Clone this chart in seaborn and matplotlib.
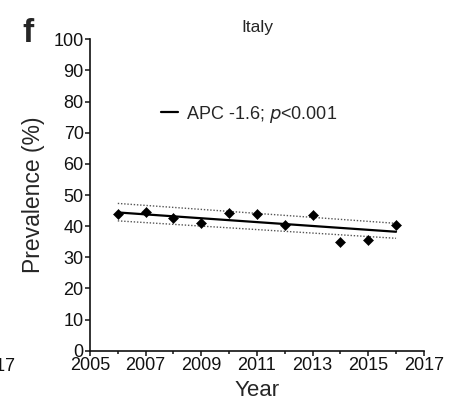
import numpy as np
import pandas as pd
import matplotlib
matplotlib.use('Agg')
import matplotlib.pyplot as plt
import seaborn as sns
from matplotlib.ticker import MultipleLocator

# prevalence by year
years = [2006, 2007, 2008, 2009, 2010, 2011, 2012, 2013, 2014, 2015, 2016]
prevalence = [43.8, 44.6, 42.5, 41.1, 44.3, 43.8, 40.4, 43.6, 35.0, 35.5, 40.4]

# fitted trend and its confidence bounds at the ends of the period
fit_years = [2006, 2016]
fit_line = [44.4, 38.2]
ci_upper = [47.3, 40.9]
ci_lower = [41.7, 36.1]

x_ticks = [2005, 2007, 2009, 2011, 2013, 2015, 2017]
y_ticks = [0, 10, 20, 30, 40, 50, 60, 70, 80, 90, 100]

df = pd.DataFrame({'Year': years, 'Prevalence': prevalence})
fit = pd.DataFrame({'Year': fit_years, 'fit': fit_line, 'lo': ci_lower, 'hi': ci_upper})

sns.set_style('ticks')
plt.rcParams['font.family'] = ['Liberation Sans', 'DejaVu Sans']

fig = plt.figure(figsize=(4.49, 4.05), dpi=100)
ax = fig.add_axes([0.2004, 0.134, 0.7436, 0.769])

sns.lineplot(data=fit, x='Year', y='hi', ax=ax, color='#555555', lw=1.0, linestyle=(0, (1, 1.3)))
sns.lineplot(data=fit, x='Year', y='lo', ax=ax, color='#555555', lw=1.0, linestyle=(0, (1, 1.3)))
sns.lineplot(data=fit, x='Year', y='fit', ax=ax, color='black', lw=1.6, label='APC -1.6; $\\it{p}$<0.001')
sns.scatterplot(data=df, x='Year', y='Prevalence', ax=ax, marker='D', s=26, color='black',
                edgecolor='black', zorder=5)

ax.set_xlim(2005, 2017)
ax.set_ylim(0, 100)
ax.set_xticks(x_ticks)
ax.set_yticks(y_ticks)
ax.xaxis.set_minor_locator(MultipleLocator(1))
sns.despine(ax=ax)
for s in ['left', 'bottom']:
    ax.spines[s].set_linewidth(1.2)
    ax.spines[s].set_color('#111111')
ax.tick_params(axis='both', which='major', length=3.5, width=1.1, labelsize=13, pad=1, colors='#111111')
ax.tick_params(axis='x', which='minor', length=2.5, width=1.1, colors='#111111')

ax.set_xlabel('Year', fontsize=16, labelpad=4)
ax.set_ylabel('Prevalence (%)', fontsize=16.5, labelpad=6)
ax.set_title('Italy', fontsize=12.5, pad=5)

ax.legend(loc='upper left', bbox_to_anchor=(0.165, 0.845), frameon=False, fontsize=13,
          handlelength=0.9, handletextpad=0.45)

fig.text(0.05, 0.88, 'f', fontsize=24, fontweight='bold', va='bottom', ha='left')
fig.text(0.034, 0.095, '2017', fontsize=13, ha='right', va='center', color='#111111')

fig.savefig('out.png', dpi=100)
